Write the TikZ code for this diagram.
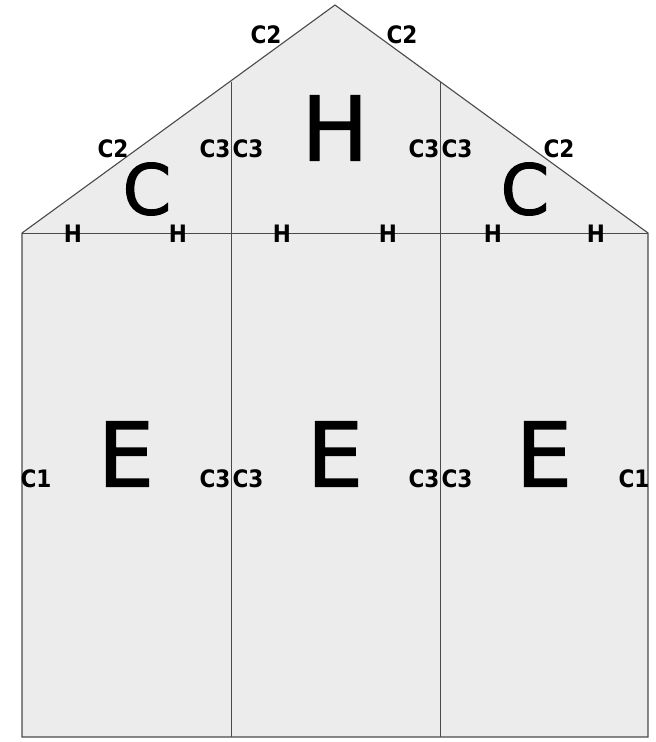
\documentclass[tikz,border=0pt]{standalone}
\usepackage{fontspec}
\setmainfont{DejaVu Sans}
\newfontfamily\lblfont{DejaVu Sans Condensed}
\newfontfamily\bigfont{DejaVu Sans}[FakeBold=1.5]
\definecolor{wallfill}{HTML}{ECECEC}
\definecolor{wallline}{HTML}{4A4A4A}
\begin{document}
\begin{tikzpicture}[x=1pt,y=-1pt,
  small/.style={font=\lblfont\bfseries\fontsize{24}{24}\selectfont, inner sep=0pt},
  big/.style={font=\bigfont\fontsize{89}{89}\selectfont, inner sep=0pt},
  bigc/.style={font=\bigfont\fontsize{70}{70}\selectfont, inner sep=0pt},
  outline/.style={draw=wallline, line width=1.1pt, line join=miter},
  divider/.style={draw=wallline, line width=0.7pt}]
\useasboundingbox (0,0) rectangle (656,742);
\coordinate (apex) at (335,5);
\coordinate (el) at (22,233);
\coordinate (er) at (648,233);
\coordinate (bl) at (22,737);
\coordinate (br) at (648,737);
\coordinate (v1t) at (231,81.5);
\coordinate (v1b) at (231,737);
\coordinate (v2t) at (440,81.5);
\coordinate (v2b) at (440,737);
% house body
\fill[wallfill] (apex) -- (er) -- (br) -- (bl) -- (el) -- cycle;
\draw[divider] (el) -- (er);
\draw[divider] (v1t) -- (v1b);
\draw[divider] (v2t) -- (v2b);
\draw[outline] (apex) -- (er) -- (br) -- (bl) -- (el) -- cycle;
% big letters
\node[big] (bigH) at (335,128) {H};
\node[bigc] (bigCl) at (147,189) {C};
\node[bigc] (bigCr) at (525,189) {C};
\node[big] (bigEl) at (126,454) {E};
\node[big] (bigEm) at (335,454) {E};
\node[big] (bigEr) at (544,454) {E};
% small labels: roof
\node[small] (c2a) at (266,35) {C2};
\node[small] (c2b) at (402,35) {C2};
\node[small] (c2c) at (113,149) {C2};
\node[small] (c2d) at (559,149) {C2};
\node[small] (c3a) at (215,149) {C3};
\node[small] (c3b) at (248,149) {C3};
\node[small] (c3c) at (424,149) {C3};
\node[small] (c3d) at (457,149) {C3};
% small H on eave line
\node[small] (h1) at (73,234) {H};
\node[small] (h2) at (178,234) {H};
\node[small] (h3) at (282,234) {H};
\node[small] (h4) at (388,234) {H};
\node[small] (h5) at (493,234) {H};
\node[small] (h6) at (596,234) {H};
% walls
\node[small] (c1a) at (36,479) {C1};
\node[small] (c3e) at (215,479) {C3};
\node[small] (c3f) at (248,479) {C3};
\node[small] (c3g) at (424,479) {C3};
\node[small] (c3h) at (457,479) {C3};
\node[small] (c1b) at (634,479) {C1};
\end{tikzpicture}
\end{document}
